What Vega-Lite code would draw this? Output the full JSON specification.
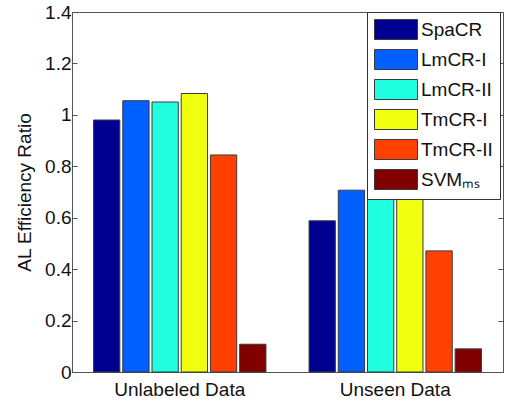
{
  "$schema": "https://vega.github.io/schema/vega-lite/v6.json",
  "width": 431,
  "height": 360,
  "autosize": "none",
  "padding": {"left": 72, "top": 12, "right": 3, "bottom": 30},
  "config": {
    "font": "Liberation Sans",
    "view": {"stroke": "#555", "strokeWidth": 1}
  },
  "data": {
    "values": [
      {"set": "Unlabeled Data", "method": "SpaCR", "ratio": 0.98},
      {"set": "Unlabeled Data", "method": "LmCR-I", "ratio": 1.055},
      {"set": "Unlabeled Data", "method": "LmCR-II", "ratio": 1.05},
      {"set": "Unlabeled Data", "method": "TmCR-I", "ratio": 1.083},
      {"set": "Unlabeled Data", "method": "TmCR-II", "ratio": 0.844},
      {"set": "Unlabeled Data", "method": "SVM_MS", "ratio": 0.108},
      {"set": "Unseen Data", "method": "SpaCR", "ratio": 0.588},
      {"set": "Unseen Data", "method": "LmCR-I", "ratio": 0.707},
      {"set": "Unseen Data", "method": "LmCR-II", "ratio": 0.671},
      {"set": "Unseen Data", "method": "TmCR-I", "ratio": 0.671},
      {"set": "Unseen Data", "method": "TmCR-II", "ratio": 0.471},
      {"set": "Unseen Data", "method": "SVM_MS", "ratio": 0.09}
    ]
  },
  "encoding": {
    "x": {
      "field": "set",
      "type": "nominal",
      "sort": ["Unlabeled Data", "Unseen Data"],
      "scale": {"paddingInner": 0.2, "paddingOuter": 0.1},
      "axis": {
        "title": null,
        "labelAngle": 0,
        "labelFontSize": 19,
        "labelColor": "#111",
        "domainColor": "#555",
        "ticks": false,
        "labelPadding": 8
      }
    },
    "y": {
      "field": "ratio",
      "type": "quantitative",
      "scale": {"domain": [0, 1.4], "nice": false}
    }
  },
  "layer": [
    {
      "mark": {"type": "bar", "stroke": "#3a3a3a", "strokeWidth": 1},
      "encoding": {
        "xOffset": {
          "field": "method",
          "type": "nominal",
          "sort": ["SpaCR", "LmCR-I", "LmCR-II", "TmCR-I", "TmCR-II", "SVM_MS"],
          "scale": {"paddingInner": 0.1}
        },
        "y": {
          "field": "ratio",
          "type": "quantitative",
          "axis": {
            "title": "AL Efficiency Ratio",
            "titleFontSize": 19,
            "titleFontWeight": "normal",
            "titleColor": "#111",
            "titlePadding": 10,
            "values": [0, 0.2, 0.4, 0.6, 0.8, 1, 1.2, 1.4],
            "format": "~g",
            "grid": false,
            "tickSize": -5,
            "tickColor": "#555",
            "domainColor": "#555",
            "labelFontSize": 19,
            "labelColor": "#111",
            "labelPadding": 6
          }
        },
        "color": {
          "field": "method",
          "type": "nominal",
          "sort": ["SpaCR", "LmCR-I", "LmCR-II", "TmCR-I", "TmCR-II", "SVM_MS"],
          "scale": {
            "domain": ["SpaCR", "LmCR-I", "LmCR-II", "TmCR-I", "TmCR-II", "SVM_MS"],
            "range": ["#000090", "#0060ff", "#20ffe0", "#f0ff10", "#ff4000", "#800000"]
          },
          "legend": {
            "title": null,
            "orient": "none",
            "legendX": 295,
            "legendY": 0,
            "padding": 7,
            "fillColor": "white",
            "strokeColor": "#333",
            "symbolType": "M-1,-1H3.3V1H-1Z",
            "symbolSize": 400,
            "symbolStrokeColor": "#3a3a3a",
            "symbolStrokeWidth": 1,
            "symbolOpacity": 1,
            "labelFontSize": 19,
            "labelColor": "#111",
            "labelOffset": 26,
            "rowPadding": 5,
            "labelExpr": "datum.label == 'SVM_MS' ? 'SVMₘₛ' : datum.label"
          }
        }
      }
    },
    {
      "mark": {"type": "bar", "opacity": 0},
      "encoding": {
        "y": {
          "field": "ratio",
          "type": "quantitative",
          "axis": {
            "orient": "right",
            "title": null,
            "labels": false,
            "domain": false,
            "values": [0, 0.2, 0.4, 0.6, 0.8, 1, 1.2, 1.4],
            "grid": false,
            "tickSize": -5,
            "tickColor": "#555"
          }
        }
      }
    }
  ],
  "resolve": {"axis": {"y": "independent"}}
}
